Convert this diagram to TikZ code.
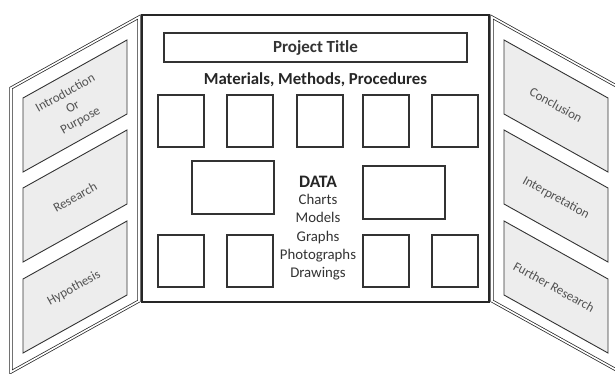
\documentclass[tikz,border=0pt]{standalone}
\usepackage{fontspec}
\setmainfont{Carlito}
\begin{document}
\begin{tikzpicture}[x=1pt,y=-1pt,
  panel/.style={draw=black!85, line width=0.75pt, double=white, double distance=1.6pt, fill=white},
  centrepanel/.style={draw=black!85, line width=1.8pt, fill=white},
  sidebox/.style={draw=black!80, line width=0.9pt, fill=black!7},
  sidelabel/.style={text=black!68, font=\fontsize{13}{15.5}\selectfont, align=center, inner sep=0pt},
  sq/.style={draw=black!80, line width=1.3pt, minimum width=46pt, minimum height=52pt, inner sep=0pt},
  wide/.style={draw=black!80, line width=1.3pt, minimum width=82pt, minimum height=53pt, inner sep=0pt},
  datatext/.style={text=black!80, font=\fontsize{14.8}{18.3}\selectfont, align=center, inner sep=0pt}
]
\useasboundingbox (0,0) rectangle (615,373);
% left panel
\coordinate (L1) at (11,88); \coordinate (L2) at (139,17);
\coordinate (L3) at (139,301); \coordinate (L4) at (11,372);
\draw[panel] (L1) -- (L2) -- (L3) -- (L4) -- cycle;
% right panel
\coordinate (R1) at (620,88); \coordinate (R2) at (492,17);
\coordinate (R3) at (492,301); \coordinate (R4) at (620,372);
\draw[panel] (R1) -- (R2) -- (R3) -- (R4) -- cycle;
% centre panel
\draw[centrepanel] (142,15) rectangle (489,302);

% left boxes
\foreach \y in {98,188,279}{
  \draw[sidebox] (23,\y) -- (127,\y-58) -- (127,\y+16) -- (23,\y+74) -- cycle;
}
% right boxes
\foreach \y in {98,188,279}{
  \draw[sidebox] (608,\y) -- (504,\y-58) -- (504,\y+16) -- (608,\y+74) -- cycle;
}
\node[sidelabel, rotate=29] (intro) at (73,107) {Introduction\\Or\\Purpose};
\node[sidelabel, rotate=29] (research) at (75,197) {Research};
\node[sidelabel, rotate=29] (hypo) at (74,288) {Hypothesis};
\node[sidelabel, rotate=-29] (concl) at (556,105) {Conclusion};
\node[sidelabel, rotate=-29] (interp) at (556,198) {Interpretation};
\node[sidelabel, rotate=-29] (further) at (554,287) {Further Research};

% title
\node[draw=black!80, line width=1.3pt, minimum width=303pt, minimum height=29pt, inner sep=0pt,
      text=black!80, font=\fontsize{17}{19}\selectfont\bfseries] (title) at (315.5,47.5) {Project Title};
\node[text=black!85, font=\fontsize{16.8}{19}\selectfont\bfseries, inner sep=0pt] (mmp) at (315.5,80) {Materials, Methods, Procedures};

% top squares
\node[sq] (t1) at (181,121) {};
\node[sq] (t2) at (250,121) {};
\node[sq] (t3) at (320,121) {};
\node[sq] (t4) at (386,121) {};
\node[sq] (t5) at (455,121) {};
% middle rectangles
\node[wide] (m1) at (233,187.5) {};
\node[wide] (m2) at (404,192.5) {};
% bottom squares
\node[sq] (b1) at (181,261) {};
\node[sq] (b2) at (250,261) {};
\node[sq] (b3) at (386,261) {};
\node[sq] (b4) at (455,261) {};

% data text
\node[text=black!85, font=\fontsize{17.5}{19}\selectfont\bfseries, inner sep=0pt] (data) at (318,182) {DATA};
\node[datatext, anchor=north] (datalist) at (318,194) {Charts\\Models\\Graphs\\Photographs\\Drawings};
\end{tikzpicture}
\end{document}
